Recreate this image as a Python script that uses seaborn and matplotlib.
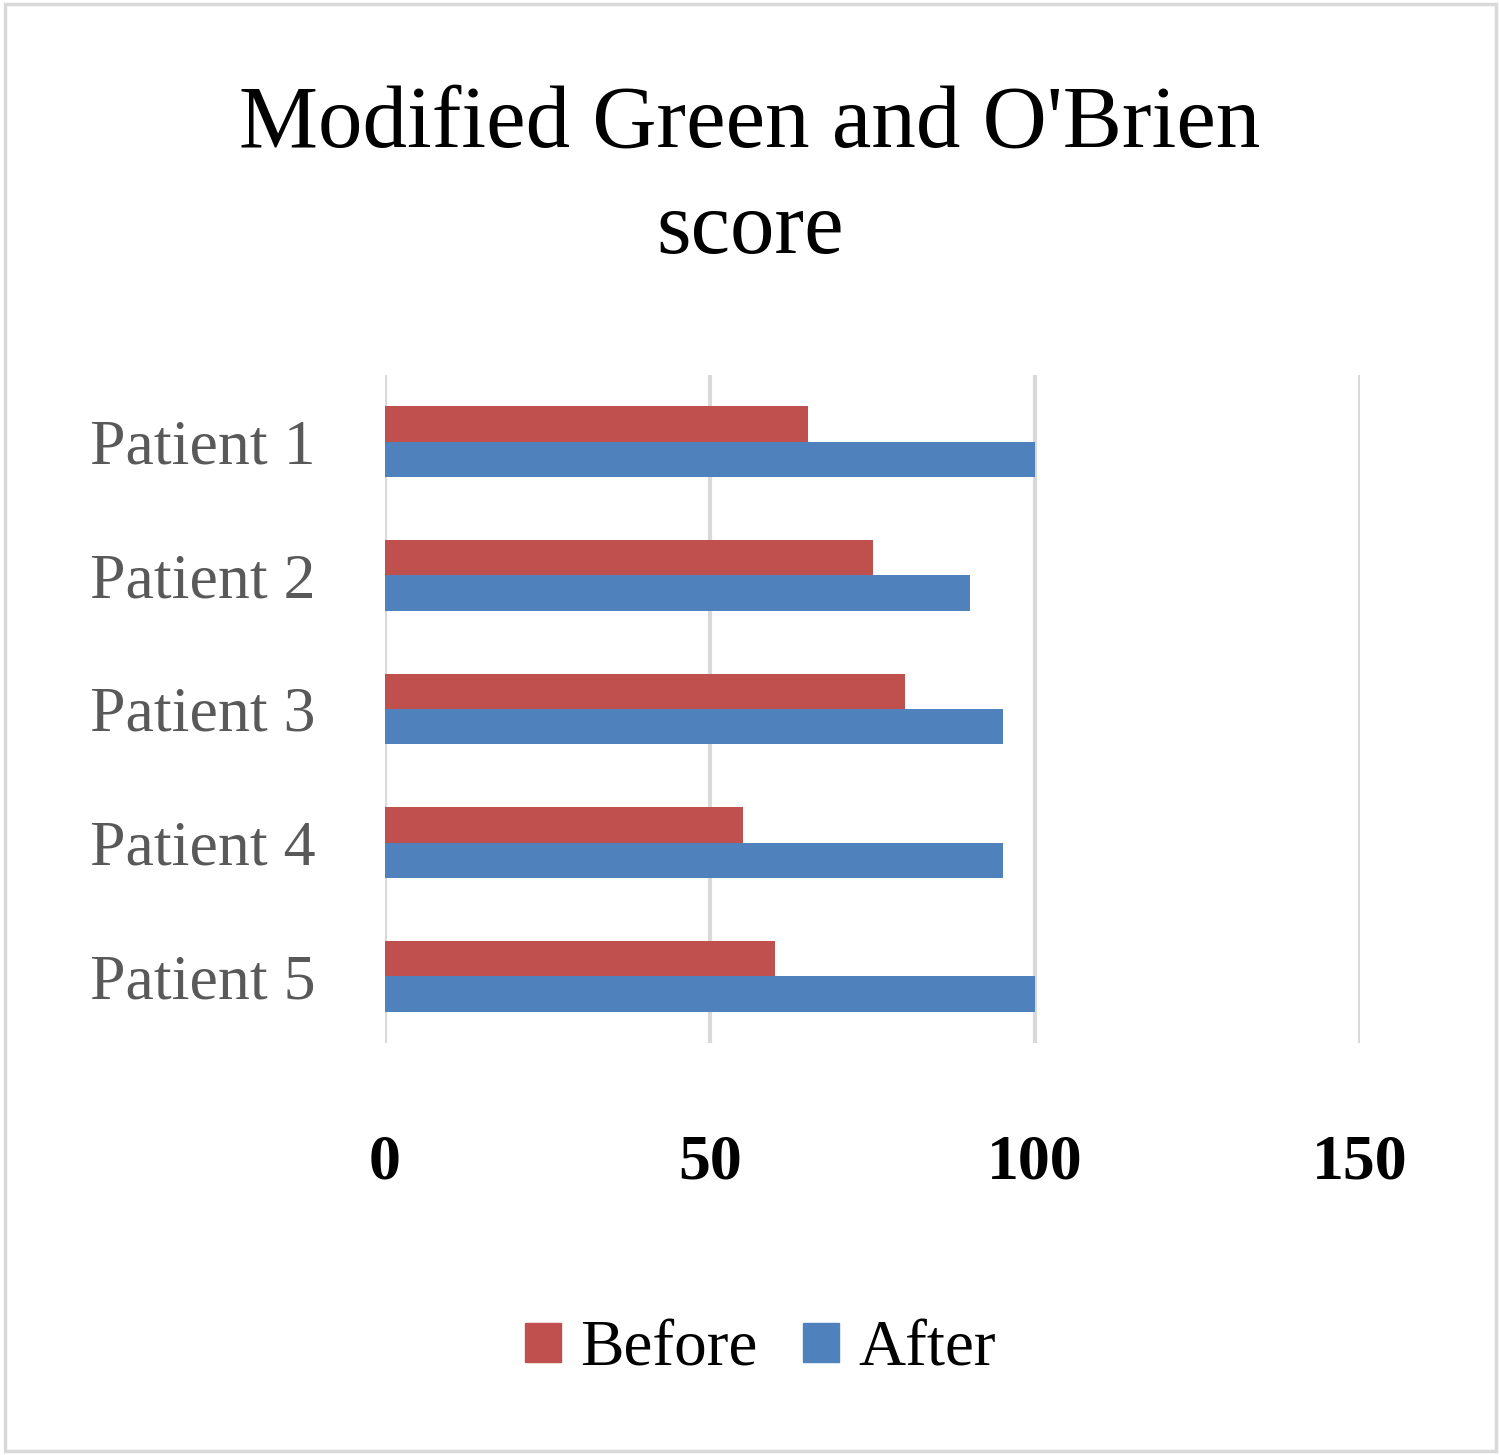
import pandas as pd
import matplotlib.pyplot as plt
import seaborn as sns
from matplotlib.patches import Rectangle

sns.set_style("white")
plt.rcParams['font.family'] = ['Liberation Serif', 'DejaVu Serif']
plt.rcParams['text.color'] = 'black'

# Data
patients = ['Patient 1', 'Patient 2', 'Patient 3', 'Patient 4', 'Patient 5']
before = [65, 75, 80, 55, 60]
after = [100, 90, 95, 95, 100]
x_ticks = [0, 50, 100, 150]

df = pd.DataFrame({
    'Patient': patients * 2,
    'Score': before + after,
    'Period': ['Before'] * len(patients) + ['After'] * len(patients),
})

fig = plt.figure(figsize=(15, 14.55), dpi=100)
ax = fig.add_axes([0.2567, 0.2832, 0.65, 0.4591])

sns.barplot(data=df, y='Patient', x='Score', hue='Period', orient='h',
            palette={'Before': '#C0504D', 'After': '#4F81BD'},
            width=0.53, linewidth=0, saturation=1, ax=ax, legend=False)

ax.set_xlim(0, 150)
ax.set_ylim(4.5, -0.5)
ax.set_xticks(x_ticks)
ax.set_xticklabels([str(t) for t in x_ticks], fontsize=46, fontweight='bold', color='black')
ax.tick_params(axis='x', length=0, pad=66)
ax.tick_params(axis='y', length=0, pad=50, labelsize=46, labelcolor='#595959')
ax.set_xlabel('')
ax.set_ylabel('')
ax.grid(axis='x', color='#D9D9D9', linewidth=3)
ax.set_axisbelow(True)
for s in ax.spines.values():
    s.set_visible(False)

fig.suptitle("Modified Green and O'Brien\nscore", fontsize=64, y=0.942,
             va='top', linespacing=1.42, color='black')

handles = [Rectangle((0, 0), 1, 1, color='#C0504D'),
           Rectangle((0, 0), 1, 1, color='#4F81BD')]
fig.legend(handles, ['Before', 'After'], loc='center', bbox_to_anchor=(0.507, 0.0725),
           ncol=2, frameon=False, fontsize=47, handlelength=0.55, handleheight=0.55,
           handletextpad=0.3, columnspacing=0.7, labelcolor='black')

fig.patches.append(Rectangle((0.003, 0.003), 0.994, 0.994, transform=fig.transFigure,
                             fill=False, edgecolor='#D9D9D9', linewidth=2.5))

plt.savefig('out.png', dpi=100)
plt.close()
